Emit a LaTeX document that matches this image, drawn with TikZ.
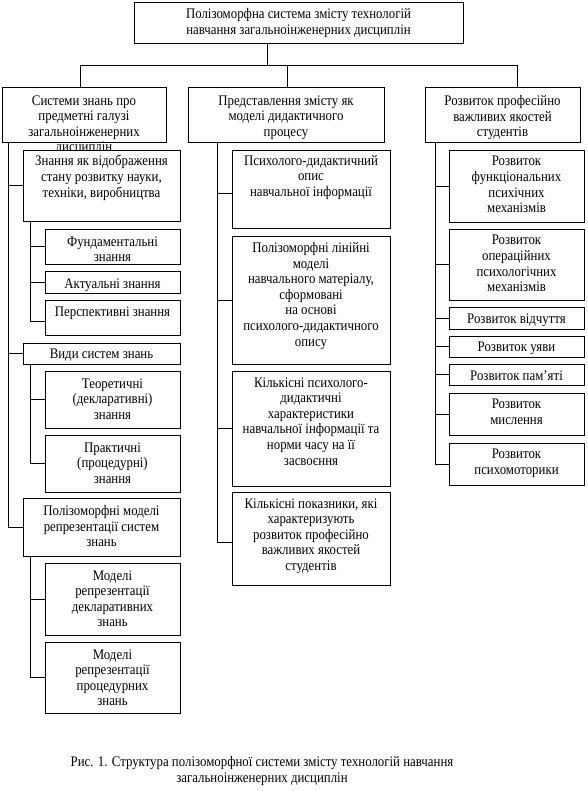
\documentclass[tikz,border=0pt]{standalone}
\usepackage{fontspec}
\setmainfont{Liberation Serif}[FakeStretch=0.88]
\newcommand\mybox[7]{%
  \node[bx,minimum width=#4pt,minimum height=#5pt] (#1) at (#2,#3) {};
  \node[tx] (#1t) at ([yshift=-#6pt]#1.north) {#7};}
\begin{document}
\begin{tikzpicture}[x=1pt,y=-1pt,line width=0.7pt,
  bx/.style={draw,fill=white,anchor=north west,inner sep=0pt,outer sep=0pt},
  tx/.style={anchor=north,align=center,inner sep=0pt,font=\fontsize{14.6}{15.6}\selectfont},
  cn/.style={draw}]
\useasboundingbox (0,0) rectangle (587,791);
\mybox{top}{134}{2}{329}{41}{6}{Полізоморфна система змісту технологій\\навчання загальноінженерних дисциплін}
\mybox{A}{2}{87}{164}{55}{8}{Системи знань про\\предметні галузі\\загальноінженерних\\дисциплін}
\mybox{B}{188}{87}{196}{55}{8}{Представлення змісту як\\моделі дидактичного\\процесу}
\mybox{C}{425}{87}{155}{55}{8}{Розвиток професійно\\важливих якостей\\студентів}
% left column
\mybox{L1}{23}{150}{157}{71}{5}{Знання як відображення\\стану розвитку науки,\\техніки, виробництва}
\mybox{L1a}{45}{229}{135}{35}{7}{Фундаментальні\\знання}
\mybox{L1b}{45}{271}{135}{22}{7}{Актуальні знання}
\mybox{L1c}{45}{300}{135}{35}{6}{Перспективні знання}
\mybox{L2}{23}{343}{157}{21}{6}{Види систем знань}
\mybox{L2a}{45}{371}{135}{57}{7}{Теоретичні\\(декларативні)\\знання}
\mybox{L2b}{45}{435}{135}{57}{7}{Практичні\\(процедурні)\\знання}
\mybox{L3}{23}{498}{157}{58}{7}{Полізоморфні моделі\\репрезентації систем\\знань}
\mybox{L3a}{45}{563}{135}{72}{7}{Моделі\\репрезентації\\декларативних\\знань}
\mybox{L3b}{45}{642}{135}{71}{7}{Моделі\\репрезентації\\процедурних\\знань}
% middle column
\mybox{M1}{232}{150}{158}{78}{5}{Психолого-дидактичний\\опис\\навчальної інформації}
\mybox{M2}{232}{236}{158}{128}{6}{Полізоморфні лінійні\\моделі\\навчального матеріалу,\\сформовані\\на основі\\психолого-дидактичного\\опису}
\mybox{M3}{232}{371}{158}{115}{6}{Кількісні психолого-\\дидактичні\\характеристики\\навчальної інформації та\\норми часу на її\\засвоєння}
\mybox{M4}{232}{492}{158}{93}{6}{Кількісні показники, які\\характеризують\\розвиток професійно\\важливих якостей\\студентів}
% right column
\mybox{R1}{449}{150}{135}{72}{6}{Розвиток\\функціональних\\психічних\\механізмів}
\mybox{R2}{449}{229}{135}{71}{6}{Розвиток\\операційних\\психологічних\\механізмів}
\mybox{R3}{449}{307}{135}{22}{6}{Розвиток відчуття}
\mybox{R4}{449}{336}{135}{21}{6}{Розвиток уяви}
\mybox{R5}{449}{364}{135}{21}{6}{Розвиток пам’яті}
\mybox{R6}{449}{393}{135}{42}{6}{Розвиток\\мислення}
\mybox{R7}{449}{443}{135}{42}{6}{Розвиток\\психомоторики}
% tree
\coordinate (j) at (267,65);
\draw (j) -- (j |- top.south);
\draw ([xshift=-4pt]A.north) |- (j);
\draw ([xshift=1pt]B.north) |- (j);
\draw ([xshift=14.5pt]C.north) |- (j);
% left connectors
\foreach \n in {L1,L2,L3} \draw ([xshift=6pt]A.south west) |- (\n.west);
\foreach \n in {L1a,L1b} \draw ([xshift=7pt]L1.south west) |- (\n.west);
\draw ([xshift=7pt]L1.south west) |- ([yshift=-3.5pt]L1c.west);
\foreach \n in {L2a,L2b} \draw ([xshift=7pt]L2.south west) |- (\n.west);
\foreach \n in {L3a,L3b} \draw ([xshift=7pt]L3.south west) |- (\n.west);
% middle connectors
\draw ([xshift=29pt]B.south west) |- ([yshift=-4pt]M1.west);
\foreach \n in {M2,M3} \draw ([xshift=29pt]B.south west) |- (\n.west);
\draw ([xshift=29pt]B.south west) |- ([yshift=-3.5pt]M4.west);
% right connectors
\foreach \n in {R1,R2,R3,R4,R5,R6,R7} \draw ([xshift=10pt]C.south west) |- (\n.west);
% caption
\node[tx,anchor=center] (cap) at (262,771) {Рис. 1. Структура полізоморфної системи змісту технологій навчання\\загальноінженерних дисциплін};
\end{tikzpicture}
\end{document}
